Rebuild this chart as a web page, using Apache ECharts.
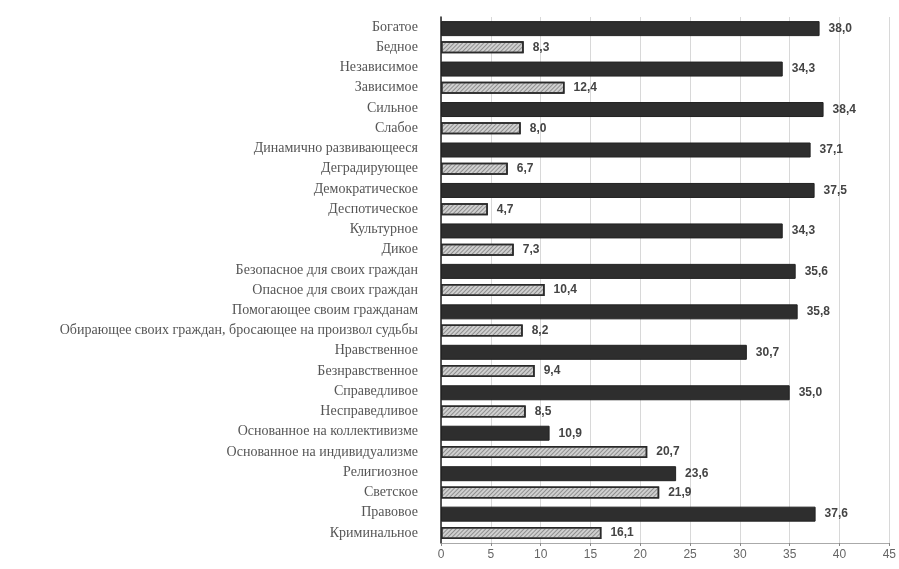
<!DOCTYPE html>
<html><head><meta charset="utf-8">
<script src="https://cdn.jsdelivr.net/npm/echarts@6/dist/echarts.min.js"></script>
<style>html,body{margin:0;padding:0;background:#fff}#c{width:899px;height:569px}</style>
</head><body><div id="c"></div>
<script>
const categories = [
  'Богатое','Бедное','Независимое','Зависимое','Сильное','Слабое',
  'Динамично развивающееся','Деградирующее','Демократическое','Деспотическое',
  'Культурное','Дикое','Безопасное для своих граждан','Опасное для своих граждан',
  'Помогающее своим гражданам','Обирающее своих граждан, бросающее на произвол судьбы',
  'Нравственное','Безнравственное','Справедливое','Несправедливое',
  'Основанное на коллективизме','Основанное на индивидуализме',
  'Религиозное','Светское','Правовое','Криминальное'
];
const values = [38.0, 8.3, 34.3, 12.4, 38.4, 8.0, 37.1, 6.7, 37.5, 4.7, 34.3, 7.3,
  35.6, 10.4, 35.8, 8.2, 30.7, 9.4, 35.0, 8.5, 10.9, 20.7, 23.6, 21.9, 37.6, 16.1];
const xTicks = [0,5,10,15,20,25,30,35,40,45];

const darkData = values.map((v,i) => i % 2 === 0 ? v : null);
const hatchData = values.map((v,i) => i % 2 === 1 ? v : null);

const label = {show:true,position:'right',distance:9,color:'#444',fontWeight:'bold',
  fontFamily:'Liberation Sans',fontSize:12,
  formatter:p=>p.value==null?'':p.value.toFixed(1).replace('.',',')};

const chart = echarts.init(document.getElementById('c'));
chart.setOption({
  animation:false,
  grid:{left:441,right:7,top:17,bottom:26,containLabel:false},
  xAxis:{type:'value',min:0,max:45,interval:5,
    axisLine:{show:true,lineStyle:{color:'#aaa'}},
    axisTick:{show:true,length:3,lineStyle:{color:'#888'}},
    axisLabel:{color:'#666',fontFamily:'Liberation Sans',fontSize:12,margin:6,
      formatter:v=>xTicks.includes(v)?String(v):''},
    splitLine:{show:true,lineStyle:{color:'#d8d8d8',width:1}}},
  yAxis:{type:'category',data:categories,inverse:true,
    axisLine:{show:true,lineStyle:{color:'#222',width:1.5}},
    axisTick:{show:false},
    axisLabel:{color:'#555',fontFamily:'Liberation Serif',fontSize:14,margin:23,interval:0}},
  series:[
    {type:'bar',name:'dark',data:darkData,barWidth:15,barGap:'-100%',
      itemStyle:{color:'#2e2e2e',borderColor:'#222',borderWidth:1},label:label},
    {type:'bar',name:'hatched',data:hatchData,barWidth:12,barGap:'-100%',
      itemStyle:{color:'#d0d0d0',borderColor:'#2a2a2a',borderWidth:1.5,
        decal:{symbol:'rect',symbolSize:1,color:'rgba(90,90,90,0.55)',dashArrayX:[1,0],dashArrayY:[1,2],rotation:-Math.PI/4}},
      label:label}
  ]
});
</script></body></html>
